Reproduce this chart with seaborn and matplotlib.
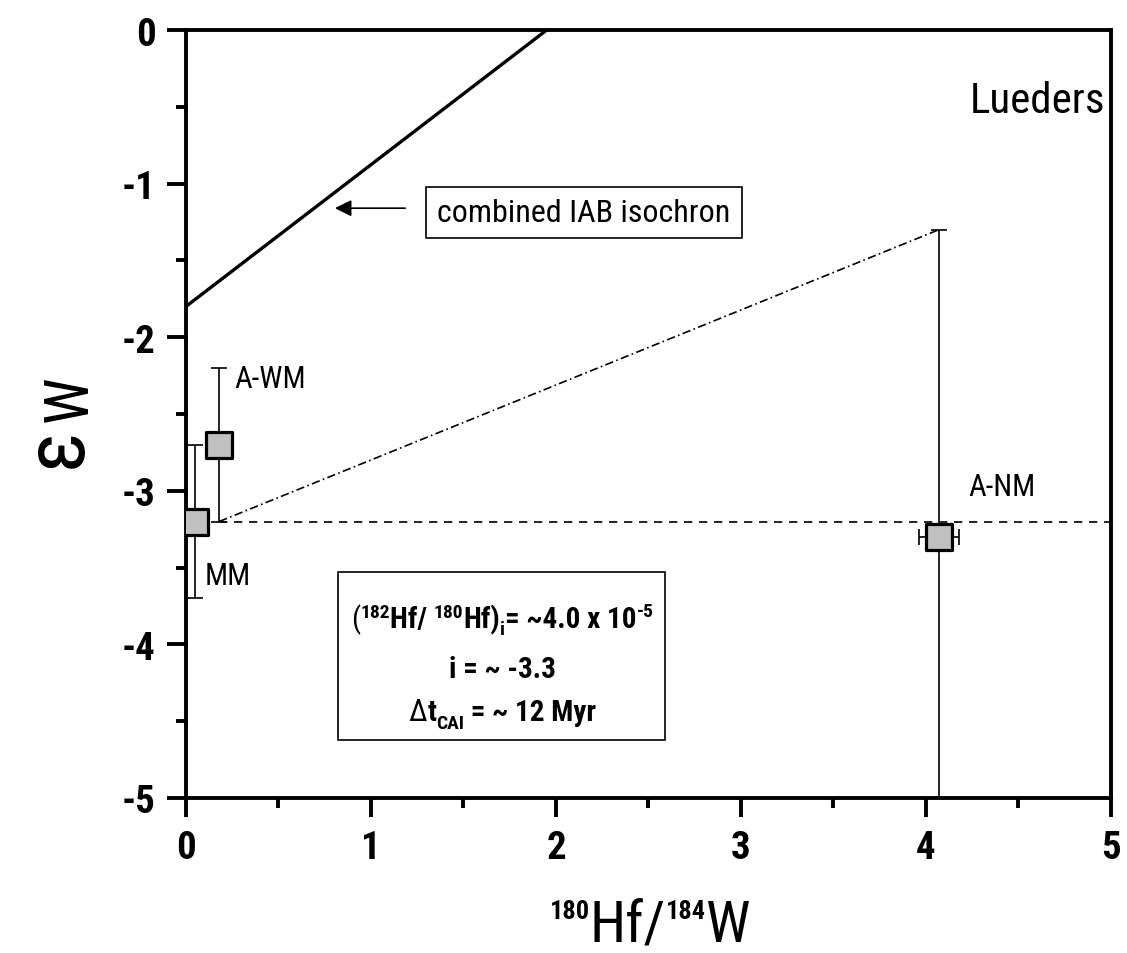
import numpy as np
import pandas as pd
import matplotlib
matplotlib.use('Agg')
import matplotlib.pyplot as plt
import seaborn as sns
from matplotlib import font_manager as fm
from matplotlib.patches import Rectangle
from matplotlib.transforms import offset_copy

sns.set_theme(style='ticks')

# pick a narrow sans if one is around, otherwise plain Liberation Sans
names = {f.name for f in fm.fontManager.ttflist}
FAM, STRETCH = 'Liberation Sans', 'normal'
for n in ['Liberation Sans Narrow', 'Arial Narrow', 'Roboto Condensed', 'Open Sans Condensed']:
    if n in names:
        FAM = n
        break
else:
    p = fm.findfont(fm.FontProperties(family='DejaVu Sans', stretch='condensed', weight='bold'),
                    fallback_to_default=False)
    if 'Condensed' in p:
        FAM, STRETCH = 'DejaVu Sans', 'condensed'

plt.rcParams['font.family'] = [FAM, 'Liberation Sans', 'DejaVu Sans']
plt.rcParams['font.stretch'] = STRETCH
for k in ['text.color', 'axes.labelcolor', 'xtick.color', 'ytick.color', 'axes.edgecolor']:
    plt.rcParams[k] = 'black'

# data
samples = ['MM', 'A-WM', 'A-NM']
hf_w = [0.05, 0.18, 4.07]
eps_w = [-3.2, -2.7, -3.3]
eps_err = [0.5, 0.5, 2.0]
hf_err = [0.0, 0.0, 0.11]

iso_x = [0.0, 1.95]
iso_y = [-1.8, 0.0]
ref_x = [0.18, 4.07]
ref_y = [-3.2, -1.3]
flat_x = [0.18, 5.0]
flat_y = [-3.2, -3.2]

label_pos = {'MM': (0.1, -3.55), 'A-WM': (0.26, -2.27), 'A-NM': (4.23, -2.97)}

df = pd.DataFrame({'sample': samples, 'x': hf_w, 'y': eps_w})

fig = plt.figure(figsize=(11.27, 9.54), dpi=100)
ax = fig.add_axes([0.1650, 0.1625, 0.8208, 0.8050])
renderer = fig.canvas.get_renderer()


def draw_runs(x, y, runs, transform, ha='center'):
    # runs: (text, size, weight, dy in px) laid side by side on one baseline
    objs, widths = [], []
    for s, size, weight, dy in runs:
        t = fig.text(x, y, s, fontsize=size, fontweight=weight, transform=transform,
                     ha='left', va='baseline')
        objs.append((t, dy))
        widths.append(t.get_window_extent(renderer).width)
    total = sum(widths)
    off = -total / 2 if ha == 'center' else 0.0
    for (t, dy), w in zip(objs, widths):
        t.set_transform(offset_copy(transform, fig=fig, x=off, y=dy, units='dots'))
        off += w


# isochron and reference lines
sns.lineplot(x=iso_x, y=iso_y, ax=ax, color='black', lw=2.4)
sns.lineplot(x=ref_x, y=ref_y, ax=ax, color='black', lw=1.2, linestyle=(0, (5, 2, 1, 2)))
sns.lineplot(x=flat_x, y=flat_y, ax=ax, color='black', lw=1.2, linestyle=(0, (5, 4)))

# error bars
ax.errorbar(hf_w, eps_w, yerr=eps_err, xerr=hf_err, fmt='none', ecolor='black',
            elinewidth=1.2, capsize=6, capthick=1.2, zorder=3)
sns.scatterplot(data=df, x='x', y='y', ax=ax, marker='s', s=340, color='#c0c0c0',
                edgecolor='black', linewidth=2.3, zorder=4)

for s in samples:
    px, py = label_pos[s]
    ax.text(px, py, s, fontsize=22, ha='left', va='center')

ax.text(4.97, -0.46, 'Lueders', fontsize=31, ha='right', va='center')

# isochron label
ax.annotate('', xy=(0.79, -1.16), xytext=(1.2, -1.16),
            arrowprops=dict(arrowstyle='-|>', color='black', lw=1.2, mutation_scale=25))
ax.text(2.15, -1.19, 'combined IAB isochron', fontsize=23, ha='center', va='center',
        bbox=dict(boxstyle='square,pad=0.35', fc='white', ec='black', lw=1.2))

# inset box
ax.add_patch(Rectangle((0.82, -4.62), 1.77, 1.09, fill=False, ec='black', lw=1.2, zorder=5))
draw_runs(1.71, -3.89, [('(', 21, 'normal', 0), ('182', 14, 'bold', 10), ('Hf/ ', 21, 'bold', 0),
                        ('180', 14, 'bold', 10), ('Hf)', 21, 'bold', 0), ('i', 14, 'bold', -7),
                        ('= ~4.0 x 10', 21, 'bold', 0), ('-5', 14, 'bold', 11)], ax.transData)
draw_runs(1.71, -4.21, [('i = ~ -3.3', 21, 'bold', 0)], ax.transData)
draw_runs(1.71, -4.49, [('\u0394', 22, 'normal', 0), ('t', 21, 'bold', 0), ('CAI', 14, 'bold', -8),
                        (' = ~ 12 Myr', 21, 'bold', 0)], ax.transData)

ax.set_xlim(0, 5)
ax.set_ylim(-5, 0)
ax.set_xticks([0, 1, 2, 3, 4, 5])
ax.set_yticks([-5, -4, -3, -2, -1, 0])
ax.set_xticks(np.arange(0.5, 5, 1.0), minor=True)
ax.set_yticks(np.arange(-4.5, 0, 1.0), minor=True)
ax.set_xticklabels(['0', '1', '2', '3', '4', '5'], fontweight='bold')
ax.set_yticklabels(['-5', '-4', '-3', '-2', '-1', '0'], fontweight='bold')
ax.tick_params(which='major', direction='out', length=14, width=2.8, labelsize=28, pad=8,
               bottom=True, left=True)
ax.tick_params(which='minor', direction='out', length=7, width=2.8, bottom=True, left=True)
for sp in ax.spines.values():
    sp.set_linewidth(2.8)
    sp.set_visible(True)

ax.set_xlabel('')
ax.set_ylabel('')

# axis titles
draw_runs(0.5767, 0.013, [('180', 19, 'bold', 23), ('Hf/', 42, 'normal', 0),
                          ('184', 19, 'bold', 23), ('W', 42, 'normal', 0)], fig.transFigure)
fig.text(0.051, 0.531, '\u03b5', fontsize=62, rotation=90, ha='center', va='center')
fig.text(0.062, 0.582, 'W', fontsize=44, rotation=90, ha='center', va='center')

fig.savefig('out.png', dpi=100)
